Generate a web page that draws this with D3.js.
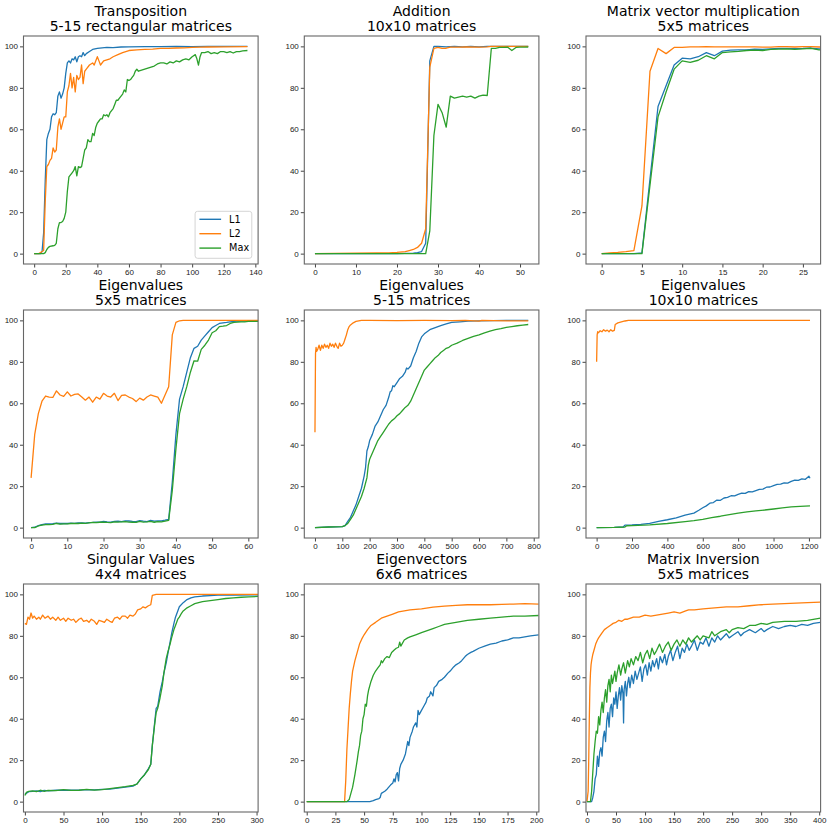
<!DOCTYPE html>
<meta charset="utf-8">
<style>
  body { margin: 0; background: #fff; }
  svg { display: block; font-family: "DejaVu Sans", sans-serif; }
  .tick text { fill: #222; font-size: 8px; }
  .tick line { stroke: #444; }
  .domain { display: none; }
  .title { font-size: 14px; fill: #000; }
</style>
<svg width="831" height="829"></svg>
<script src="https://d3js.org/d3.v7.min.js"></script>
<script>

  // ---- data: [step, accuracy %] ----
  var seriesNames = ["L1", "L2", "Max"];
  var colors = ["#1f77b4", "#ff7f0e", "#2ca02c"];
  var yTicks = [0, 20, 40, 60, 80, 100];

  var transpTicks = [0, 20, 40, 60, 80, 100, 120, 140];
  var transpL1 = [[0,0],[2,0],[4,0],[5,1],[6,10],[7,35],[8,55],[9,58],[10,60],[11,66],[12,67.5],[13,67],[14,68],[15,76],[16,78],[17,75],[18,77],[19,80],[20,87],[21,92],[22,93],[23,92],[24,94],[25,93.5],[26,95],[27,92.5],[28,95],[29,95.5],[30,95],[31,97],[32,95.5],[33,96.5],[35,97.5],[37,98.5],[40,99],[43,99.3],[46,99.5],[50,99.4],[55,99.7],[60,99.8],[70,99.9],[80,99.9],[90,100],[100,99.9],[110,100],[120,100],[135,100]];
  var transpL2 = [[0,0],[3,0],[4,0.5],[5,1],[6,1.5],[7,25],[8,42],[9,43],[10,45],[11,46],[12,51],[13,49],[14,50],[15,61],[16,65],[17,60],[18,63],[19,66],[20,66],[21,78],[22,81],[23,87],[24,80],[25,85],[26,78],[27,86],[28,84],[29,85],[30,91],[31,82],[32,88],[33,89],[35,91],[37,92],[38,91],[40,95],[41,93],[42,91],[44,93],[46,93.5],[48,94],[50,95],[53,96],[56,97],[60,98],[65,98.3],[70,98.5],[75,98.7],[80,99],[85,99],[90,99.2],[95,99.3],[100,99.5],[105,99.6],[110,99.7],[120,99.8],[135,99.9]];
  var transpMax = [[0,0],[6,0],[7,0.5],[8,2],[9,3],[10,3.5],[12,3.8],[13,4],[14,5],[15,12],[16,15],[17,15],[18,15.5],[19,17],[20,20],[21,30],[22,37],[23,38],[24,39],[25,40],[26,42],[27,37.5],[28,42],[29,41.5],[30,42],[31,46],[32,50],[33,51],[34,55],[35,54],[36,54],[37,58],[38,57],[39,61],[40,63],[41,64],[42,65],[43,65],[44,67],[45,66.5],[46,67],[47,66],[48,68],[49,69],[50,70],[51,72],[52,74],[53,74],[54,75],[55,76],[56,77],[57,79],[58,78],[59,84],[60,83.5],[61,84],[62,85],[63,86],[64,88],[65,89],[66,88],[68,88.5],[70,89],[72,89.5],[74,90],[76,90.5],[78,91.5],[80,92],[82,92],[84,91.5],[86,92.5],[88,92],[90,93],[92,92.5],[94,93.5],[96,94],[98,93.5],[100,95],[102,96],[103,94],[104,91],[105,95],[106,97],[108,97],[110,97.5],[112,96.5],[114,97],[116,96.5],[118,97.5],[120,97.5],[122,97],[124,97.5],[126,96.8],[128,97.5],[130,97.5],[132,97.8],[135,98]];

  var addTicks = [0, 10, 20, 30, 40, 50];
  var addL1 = [[0,0],[10,0],[20,0],[24,0.2],[25,0.5],[26,1],[27,5],[28,93],[29,100],[30,100],[32,99.8],[34,100],[36,99.8],[38,100],[40,99.8],[42,100],[45,100],[48,100],[52,100]];
  var addL2 = [[0,0],[5,0.1],[10,0.2],[15,0.3],[18,0.4],[20,0.6],[22,1],[23,1.5],[24,2],[25,3],[26,5],[27,12],[28,90],[29,99],[30,99.5],[31,99],[32,99.1],[33,99.6],[35,99.6],[37,99.7],[40,99.6],[42,99.8],[43,100],[46,100],[50,100],[52,100]];
  var addMax = [[0,0],[27,0],[28,11],[29,57],[30,72],[31,68],[32,61],[33,76],[34,75],[35,75.5],[36,76],[37,75.5],[38,76],[39,75],[40,76],[41,76.5],[42,76.3],[43,99],[44,99],[45,99.5],[46,99.5],[47,99.6],[48,98],[49,99.5],[50,99.6],[51,99.6],[52,99.7]];

  var mvTicks = [0, 5, 10, 15, 20, 25];
  var mvL1 = [[0,0],[1,0],[2,0],[3,0],[4,0],[5,0.3],[6,36],[7,71],[8,81],[9,91],[10,94.3],[11,94],[12,95],[13,97],[14,95.5],[15,97.7],[16,98.2],[17,98.3],[18,98.3],[19,98.6],[20,98.5],[21,98.8],[22,99],[23,99],[24,98.9],[25,99],[26,99.2],[27,98.8],[28,98.5]];
  var mvL2 = [[0,0],[1,0.3],[2,0.6],[3,1],[4,1.5],[5,23],[6,88],[7,99],[8,96.5],[9,99.5],[10,99.5],[11,99.8],[12,99.8],[13,99.9],[14,99.8],[15,99.8],[16,99.8],[17,99.8],[18,99.8],[19,99.8],[20,99.6],[21,99.6],[22,99.9],[23,99.9],[24,99.7],[25,99.9],[26,99.9],[27,99.7],[28,99.7]];
  var mvMax = [[0,0],[5,0],[6,33],[7,66],[8,78],[9,89],[10,93],[11,92.3],[12,93.3],[13,95.5],[14,94],[15,97],[16,97.3],[17,97.6],[18,98],[19,98.2],[20,98],[21,98.5],[22,98.7],[23,98.8],[24,98.5],[25,98.8],[26,99],[27,98.3],[28,98.3]];

  var eig5Ticks = [0, 10, 20, 30, 40, 50, 60];
  var eig5L1 = [[0,0],[1,0.2],[2,1],[3,1.5],[4,1.8],[5,1.8],[6,1.9],[7,2.2],[8,2],[9,2.1],[10,2],[11,2.2],[12,2.1],[13,2.3],[14,2.3],[15,2.2],[16,2.4],[17,2.5],[18,2.7],[19,2.6],[20,3],[21,2.8],[22,2.7],[23,3],[24,3.1],[25,2.9],[26,3.3],[27,3.2],[28,3],[29,2.9],[30,3.4],[31,3.1],[32,2.9],[33,3.5],[34,3.1],[35,3.2],[36,3.3],[37,3.6],[38,4],[39,22],[40,45],[41,62],[42,68],[43,75],[44,82],[45,86.5],[46,87.5],[47,90.5],[48,92.5],[49,94.5],[50,96.5],[51,97.5],[52,98.5],[53,98.8],[54,99],[55,99.3],[56,99.5],[57,99.6],[58,99.7],[59,99.7],[60,99.8],[62,99.8],[64,99.9]];
  var eig5L2 = [[0,24],[1,45],[2,55],[3,61],[4,63.5],[5,63],[6,62.8],[7,66],[8,64],[9,63.3],[10,65.5],[11,63.5],[12,64.3],[13,64.5],[14,63],[15,61.5],[16,63],[17,60.5],[18,63],[19,62],[20,64.8],[21,63.5],[22,63],[23,64.8],[24,61.3],[25,63.8],[26,64],[27,63],[28,62.3],[29,60.8],[30,62.5],[31,61.5],[32,63],[33,64],[34,63.5],[35,63],[36,60],[37,64],[38,68],[39,93],[40,99],[41,99.8],[42,100],[50,100],[64,100]];
  var eig5Max = [[0,0],[1,0],[2,0.8],[3,1.2],[4,1.5],[5,1.5],[6,1.6],[7,2],[8,1.7],[9,1.8],[10,1.8],[11,2],[12,2.1],[13,2],[14,2.2],[15,2.1],[16,2.3],[17,2.5],[18,2.4],[19,2.6],[20,2.7],[21,2.5],[22,2.4],[23,2.8],[24,2.7],[25,2.8],[26,2.9],[27,2.7],[28,2.6],[29,2.5],[30,3],[31,2.7],[32,2.8],[33,3],[34,2.6],[35,2.9],[36,2.8],[37,3.1],[38,3.5],[39,18],[40,38],[41,55],[42,62],[43,68],[44,75],[45,80.5],[46,80.3],[47,86],[48,88],[49,90.5],[50,94],[51,95],[52,97],[53,97.2],[54,97.5],[55,98.5],[56,99],[57,99.2],[58,99.3],[59,99.3],[60,99.5],[62,99.5],[64,99.6]];

  var eig515Ticks = [0, 100, 200, 300, 400, 500, 600, 700, 800];
  var eig515L1 = [[0,0],[50,0.3],[100,0.5],[110,1],[120,3],[130,5],[140,8],[150,11],[160,15],[170,19],[180,25],[185,29],[190,37],[195,39],[200,42],[210,45],[220,49],[230,51],[240,54],[250,57],[260,59],[270,63],[275,65.5],[280,66],[285,68.5],[290,68],[300,70],[310,72],[320,73],[330,75],[335,77],[340,76.5],[350,78],[360,82],[370,85],[380,89],[390,92],[400,93.5],[410,94.5],[420,95.5],[440,96.5],[460,97.5],[480,98.3],[500,99],[530,99.3],[560,99.6],[600,99.8],[650,99.9],[700,100],[780,100]];
  var eig515L2 = [[0,46],[2,84],[4,87],[6,85],[10,86],[15,88],[20,85.5],[25,88],[30,86.5],[35,88.5],[40,87],[45,88],[50,86.5],[55,89],[60,87.5],[65,88.5],[70,87],[75,89],[80,87.5],[85,86.5],[90,89],[95,87.5],[100,88],[105,89],[110,91],[115,93],[120,95.5],[125,97],[130,97.8],[140,98.8],[150,99.5],[160,99.8],[170,100],[200,100],[300,99.9],[400,100],[500,99.9],[550,100],[600,99.6],[610,100],[700,99.8],[780,99.8]];
  var eig515Max = [[0,0],[50,0.3],[100,0.5],[110,1],[120,2],[130,4],[140,6],[150,9],[160,12],[170,15],[180,19],[190,24],[195,30],[200,33],[210,36],[220,39],[230,42],[240,44],[250,46],[260,48],[270,50],[280,51.5],[290,52.5],[300,54],[310,55],[320,56.5],[330,58],[340,59],[350,61],[360,64],[370,67],[380,70],[390,73],[400,76],[410,77.5],[420,79],[430,80.5],[440,82],[450,83],[460,84.5],[470,85.5],[480,86.5],[490,87],[500,88],[520,89],[540,90.3],[560,91.3],[580,92.3],[600,93],[620,94],[640,94.8],[660,95.5],[680,96],[700,96.6],[720,97],[740,97.4],[760,97.7],[780,98]];

  var eig10Ticks = [0, 200, 400, 600, 800, 1000, 1200];
  var eig10L1 = [[0,0],[100,0.1],[150,0.3],[160,1.2],[200,1.3],[250,1.6],[300,2.1],[350,3],[400,3.8],[450,4.7],[500,6],[550,7],[580,8.5],[600,9.6],[620,10.5],[640,11.8],[660,12.1],[680,13.3],[700,13.2],[720,14.3],[740,14.6],[760,15.4],[780,15.3],[800,16],[820,16.6],[840,16.5],[860,17.4],[880,17.3],[900,17.9],[920,18.5],[940,18.6],[960,19.5],[980,19.6],[1000,20.3],[1020,20.9],[1040,21],[1060,21.6],[1080,21.5],[1100,22.3],[1120,22.9],[1140,22.8],[1160,23.5],[1180,23.3],[1200,24.8],[1206,23.8]];
  var eig10L2 = [[0,80],[3,93],[6,94.5],[10,94],[20,95],[30,94.5],[40,95.5],[50,94.8],[60,95.3],[70,94.5],[80,95.5],[90,94.8],[100,95.2],[105,98],[120,98.8],[140,99.3],[160,99.7],[180,100],[300,100],[600,100],[900,100],[1206,100]];
  var eig10Max = [[0,0],[100,0.1],[160,0.3],[170,0.9],[200,1],[300,1.3],[400,2],[500,2.9],[550,3.4],[600,4],[650,4.8],[700,5.5],[750,6.3],[800,7],[850,7.6],[900,8.1],[950,8.5],[1000,9],[1050,9.5],[1100,10],[1150,10.3],[1206,10.5]];

  var svTicks = [0, 50, 100, 150, 200, 250, 300];
  var svL1 = [[0,3.5],[2,4],[5,4.8],[10,5],[15,5.2],[20,4.8],[25,5.4],[30,5.2],[40,5.5],[50,5.6],[60,5.5],[70,5.6],[80,5.8],[90,5.7],[100,5.9],[110,6],[120,6.5],[130,7],[140,7.5],[145,8.5],[150,11],[155,13],[160,16],[163,18],[165,27],[168,38],[170,45],[172,46],[175,53],[178,58],[180,62],[183,67],[185,71],[188,77],[190,81],[193,86],[195,89],[198,92],[200,94],[205,96],[210,97.5],[215,98.3],[220,98.8],[230,99.2],[240,99.4],[250,99.6],[270,99.7],[302,99.8]];
  var svL2 = [[0,86],[2,85.5],[4,89],[6,88],[8,91],[10,88.5],[12,89.5],[15,88],[18,89],[20,88],[23,90],[26,88.5],[30,89.5],[33,88],[36,89],[40,87.5],[43,89],[46,87.5],[50,88.5],[53,87],[56,88.5],[60,87.5],[63,88],[66,86.5],[70,88],[73,88.5],[76,87],[80,87.5],[83,86.5],[86,88],[90,87],[93,85.5],[96,87.5],[100,87],[103,86.5],[106,88],[110,87],[113,86.5],[116,88.5],[120,89],[123,88],[126,89.5],[130,89.5],[133,88.5],[136,90],[140,89.5],[143,90.5],[146,92.5],[150,93],[153,94],[156,93.5],[160,94.5],[163,95],[165,99.5],[170,100],[200,100],[250,100],[302,100]];
  var svMax = [[0,3],[2,4.5],[5,5],[10,5.2],[15,4.8],[20,5.5],[25,5],[30,5.4],[40,5.3],[50,5.8],[60,5.4],[70,5.5],[80,5.9],[90,5.6],[100,5.8],[110,6.3],[120,6.8],[130,7.2],[140,7.8],[145,8.5],[150,11],[155,13],[160,15.5],[163,18],[165,27],[168,37],[170,43],[172,45],[175,50],[178,56],[180,62],[183,69],[185,72],[188,76],[190,79],[193,83],[195,85],[198,88],[200,89],[203,91],[205,92],[210,93.5],[215,94.5],[220,95.5],[230,96.5],[240,97],[250,97.5],[260,98],[270,98.3],[280,98.6],[290,98.8],[302,99]];

  var evTicks = [0, 25, 50, 75, 100, 125, 150, 175, 200];
  var evL1 = [[0,0],[55,0],[58,0.5],[60,1],[63,1.5],[64,2],[65,4],[68,5],[70,6],[73,8],[75,9],[76,11],[77,9.5],[78,13],[79,14],[80,10],[81,16],[82,18],[84,20],[86,23],[88,29],[89,27],[90,31],[92,34],[93,36],[95,38],[96,36],[97,44],[98,42],[100,44],[102,46],[104,48],[105,50],[107,51],[108,53],[110,51],[111,55],[113,56],[115,58],[118,59],[120,60],[123,62],[125,63],[128,65],[130,66],[133,67],[135,68],[138,70],[140,71],[143,72],[145,72.5],[150,74],[155,75],[160,76],[165,76.5],[170,77.5],[175,78],[180,79],[185,79],[190,79.5],[195,80],[202,80.5]];
  var evL2 = [[0,0],[33,0],[34,10],[35,25],[36,35],[37,45],[38,52],[39,58],[40,63],[42,68],[44,72],[46,76],[48,78.5],[50,80.5],[53,83],[56,85],[60,86.5],[65,88.5],[70,89.5],[75,90.5],[80,91.5],[85,92],[90,92.5],[95,92.8],[100,93],[110,93.8],[120,94.3],[130,94.7],[140,95],[150,95],[160,95],[170,95.2],[180,95.3],[190,95.5],[202,95.3]];
  var evMax = [[0,0],[35,0],[37,1],[38,3],[40,7],[42,13],[44,20],[45,24],[46,27],[47,32],[48,34],[49,40],[50,42],[51,47],[52,46],[53,51],[54,54],[56,58],[58,61],[60,63],[62,64.5],[64,66],[65,68],[66,67],[68,69],[70,70],[72,69.5],[74,72],[76,73],[78,74],[80,74.5],[81,77],[82,75],[85,78],[88,79],[90,79.5],[95,80.5],[100,81.5],[105,82.5],[110,83.5],[115,84.5],[120,85.5],[125,86],[130,86.5],[135,87],[140,87.5],[150,88],[160,88.5],[170,89],[180,89.5],[190,89.5],[202,89.8]];

  var invTicks = [0, 50, 100, 150, 200, 250, 300, 350, 400];
  var invL1 = [[0,0],[8,0],[10,2],[12,5],[14,11],[16,13],[18,22],[20,17],[22,24],[24,26],[26,22],[28,31],[30,34],[32,29],[34,39],[36,43],[38,36],[40,45],[42,47],[44,41],[46,50],[48,47],[50,53],[52,45],[54,51],[56,55],[58,49],[60,56],[62,52],[63,38],[64,54],[66,58],[68,51],[70,57],[72,60],[74,55],[77,61],[80,57],[83,63],[86,59],[89,62],[92,65],[95,58],[98,64],[101,66],[104,61],[107,67],[110,63],[113,68],[116,65],[120,69],[123,64],[126,70],[130,67],[134,71],[137,66],[140,70],[144,73],[148,68],[152,72],[156,75],[160,69],[164,74],[168,72],[172,76],[176,73],[180,75],[185,78],[190,73],[195,77],[200,76],[205,79],[210,75],[215,79],[220,77],[225,80],[230,78],[240,81],[245,79],[250,80],[260,82],[265,80],[270,81.5],[280,83],[290,81.5],[300,83.5],[305,82],[310,83],[320,84.5],[330,83.5],[340,84.5],[350,85],[360,84.5],[370,85.5],[380,85],[390,86],[402,86.5]];
  var invL2 = [[0,0],[2,5],[3,20],[4,40],[5,55],[6,62],[7,66],[8,68],[10,71],[13,74],[15,76],[18,78],[20,79],[25,81],[30,83],[35,84],[40,85],[45,86],[50,86.5],[55,87.5],[60,87],[65,88],[70,88],[75,88.5],[80,89],[90,89],[100,90],[110,89.5],[120,90],[130,90.5],[140,91],[150,91.5],[160,91],[170,92],[175,92.5],[185,92.5],[200,93],[220,93.5],[240,94],[260,94],[280,94.5],[300,95],[320,95.3],[340,95.5],[360,95.8],[380,96],[402,96.3]];
  var invMax = [[0,0],[6,0],[8,5],[10,14],[12,23],[14,29],[16,34],[18,33],[20,41],[22,37],[24,44],[26,48],[28,43],[30,50],[32,54],[34,48],[36,56],[38,59],[40,53],[42,61],[44,57],[46,60],[48,63],[50,58],[52,62],[55,66],[58,61],[60,64],[63,67],[66,62],[70,68],[73,65],[76,69],[80,66],[84,70],[88,68],[92,72],[96,67],[100,71],[104,73],[108,69],[112,74],[116,71],[120,73],[125,76],[130,72],[135,75],[140,77],[145,73],[150,76],[155,78],[160,75],[165,78],[170,76],[175,79],[180,77],[190,80],[195,78],[200,80],[210,79],[215,82],[220,80],[230,82],[240,83],[245,81.5],[250,83],[260,84],[270,83.5],[280,85],[290,85],[300,86],[310,85.5],[320,86.5],[340,87],[360,87],[380,87.5],[402,88.5]];

  var panels = [
    { title: ["Transposition", "5-15 rectangular matrices"], xd: [-6.75, 141.75], ticks: transpTicks, series: [transpL1, transpL2, transpMax], legend: true },
    { title: ["Addition", "10x10 matrices"], xd: [-2.6, 54.6], ticks: addTicks, series: [addL1, addL2, addMax] },
    { title: ["Matrix vector multiplication", "5x5 matrices"], xd: [-1.95, 27.2], ticks: mvTicks, series: [mvL1, mvL2, mvMax] },
    { title: ["Eigenvalues", "5x5 matrices"], xd: [-2.1, 62.7], ticks: eig5Ticks, series: [eig5L1, eig5L2, eig5Max] },
    { title: ["Eigenvalues", "5-15 matrices"], xd: [-39, 819], ticks: eig515Ticks, series: [eig515L1, eig515L2, eig515Max] },
    { title: ["Eigenvalues", "10x10 matrices"], xd: [-60, 1266], ticks: eig10Ticks, series: [eig10L1, eig10L2, eig10Max] },
    { title: ["Singular Values", "4x4 matrices"], xd: [-1.8, 302], ticks: svTicks, series: [svL1, svL2, svMax] },
    { title: ["Eigenvectors", "6x6 matrices"], xd: [-2.1, 202.3], ticks: evTicks, series: [evL1, evL2, evMax] },
    { title: ["Matrix Inversion", "5x5 matrices"], xd: [-1.7, 402.4], ticks: invTicks, series: [invL1, invL2, invMax] }
  ];

  var svg = d3.select("svg");
  var colLeft = [23.5, 304.3, 586],
    rowTop = [36, 310, 584],
    pw = 234.6,
    ph = 228;

  panels.forEach(function (p, i) {
    var left = colLeft[i % 3], top = rowTop[Math.floor(i / 3)];
    var g = svg.append("g").attr("transform", "translate(" + left + "," + top + ")");

    var x = d3.scaleLinear().domain(p.xd).range([0, pw]);
    var y = d3.scaleLinear().domain([-5, 105]).range([ph, 0]);

    g.append("clipPath").attr("id", "clip" + i)
      .append("rect").attr("width", pw).attr("height", ph);

    var line = d3.line()
      .x(function (d) { return x(d[0]); })
      .y(function (d) { return y(d[1]); });

    g.append("g").attr("clip-path", "url(#clip" + i + ")")
      .selectAll("path")
      .data(p.series)
      .enter().append("path")
      .attr("d", line)
      .attr("fill", "none")
      .attr("stroke", function (d, k) { return colors[k]; })
      .attr("stroke-width", 1.3)
      .attr("stroke-linejoin", "round");

    g.append("g").attr("transform", "translate(0," + ph + ")")
      .call(d3.axisBottom(x).tickValues(p.ticks).tickFormat(d3.format("d")).tickSize(3.5).tickPadding(1.5));
    g.append("g")
      .call(d3.axisLeft(y).tickValues(yTicks).tickFormat(d3.format("d")).tickSize(3.5).tickPadding(2));

    g.append("rect")
      .attr("width", pw).attr("height", ph)
      .attr("fill", "none").attr("stroke", "#666").attr("stroke-width", 1.1);

    g.append("text").attr("class", "title")
      .attr("x", pw / 2).attr("y", -20.5).attr("text-anchor", "middle").text(p.title[0]);
    g.append("text").attr("class", "title")
      .attr("x", pw / 2).attr("y", -5).attr("text-anchor", "middle").text(p.title[1]);

    if (p.legend) {
      var lg = g.append("g").attr("transform", "translate(" + (pw - 63) + "," + (ph - 52.7) + ")");
      lg.append("rect").attr("width", 56.7).attr("height", 47)
        .attr("rx", 2.5).attr("fill", "#fff").attr("fill-opacity", 0.8)
        .attr("stroke", "#d0d0d0").attr("stroke-width", 0.9);
      seriesNames.forEach(function (name, k) {
        var cy = 8 + k * 14.4;
        lg.append("line").attr("x1", 4.3).attr("x2", 26).attr("y1", cy).attr("y2", cy)
          .attr("stroke", colors[k]).attr("stroke-width", 1.4);
        lg.append("text").attr("x", 34).attr("y", cy).attr("dy", "0.35em")
          .style("font-size", "9.7px").text(name);
      });
    }
  });

</script>
